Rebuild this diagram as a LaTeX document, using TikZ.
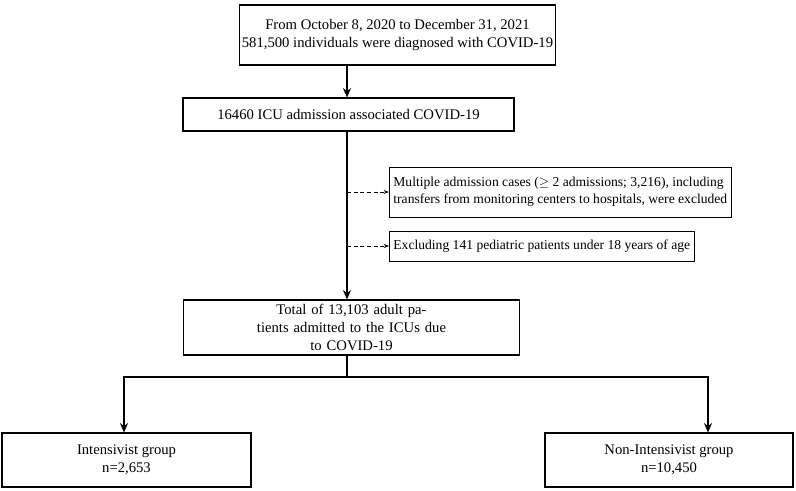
\documentclass[tikz,border=0pt]{standalone}
\usepackage{fontspec}
\setmainfont{Liberation Serif}
\usetikzlibrary{positioning,arrows.meta}

\tikzset{
  mainbox/.style={draw, line width=0.8pt, align=center, inner sep=2pt, font=\fontsize{11}{13.5}\selectfont},
  sidebox/.style={draw, line width=0.6pt, align=left, anchor=west, inner sep=3pt, font=\fontsize{10.2}{12.5}\selectfont},
  flow/.style={line width=1.6pt, -{Stealth[length=7pt,width=6pt]}},
  side/.style={densely dashed, line width=0.5pt, -{Stealth[length=4pt,width=3pt]}}
}

\begin{document}
\begin{tikzpicture}[x=0.75pt,y=-0.75pt]
  \useasboundingbox (0,0) rectangle (796,490);

  % main boxes
  \node[mainbox, minimum width=291*0.75pt, minimum height=60*0.75pt] (start) at (397.5,35) {From October 8, 2020 to December 31, 2021\\581,500 individuals were diagnosed with COVID-19};
  \node[mainbox, minimum width=331*0.75pt, minimum height=33*0.75pt] (icu) at (348.5,114.5) {16460 ICU admission associated COVID-19};
  \node[mainbox, text width=330*0.75pt, minimum height=55*0.75pt] (adult) at (351.5,327.5) {Total of 13,103 adult patients admitted to the ICUs due\\to COVID-19};
  \node[mainbox, minimum width=249*0.75pt, minimum height=54*0.75pt] (inten) at (126.5,460) {Intensivist group\\n=2,653};
  \node[mainbox, minimum width=248*0.75pt, minimum height=54*0.75pt] (nonint) at (669,460) {Non-Intensivist group\\n=10,450};

  % exclusion boxes
  \node[sidebox, minimum height=50*0.75pt] (multi) at (389,192) {Multiple admission cases ($\geq$ 2 admissions; 3,216), including\\transfers from monitoring centers to hospitals, were excluded};
  \node[sidebox, minimum height=30*0.75pt] (pedi) at (389,246) {Excluding 141 pediatric patients under 18 years of age};

  % connectors
  \coordinate (c1) at (347,0);
  \draw[flow] (start.south -| c1) -- (icu.north -| c1);
  \draw[flow] (icu.south -| c1) -- (adult.north -| c1);
  \draw[side] (multi.west -| c1) -- (multi.west);
  \draw[side] (pedi.west -| c1) -- (pedi.west);

  % split
  \coordinate (split) at (347,377);
  \coordinate (sl) at (124,377);
  \coordinate (sr) at (708,377);
  \draw[line width=1.6pt] (adult.south -| c1) -- (split);
  \draw[line width=1.6pt] ([xshift=-0.6pt]sl) -- ([xshift=0.6pt]sr);
  \draw[flow] (sl) -- (inten.north -| sl);
  \draw[flow] (sr) -- (nonint.north -| sr);
\end{tikzpicture}
\end{document}
